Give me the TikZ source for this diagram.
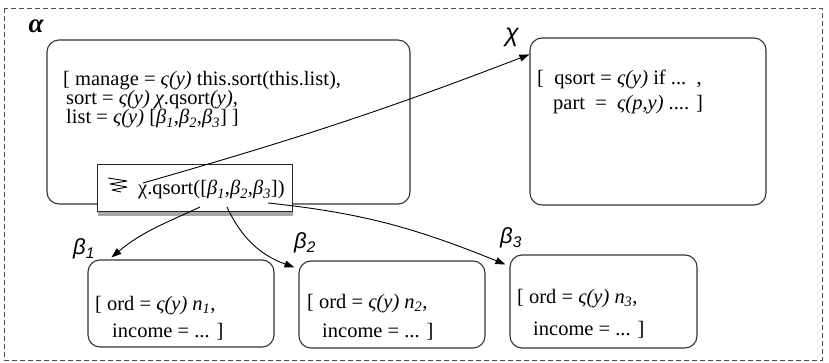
\documentclass[tikz,border=0pt]{standalone}
\usepackage{fontspec}
\setmainfont{Liberation Serif}
\newfontfamily\lblfont{Liberation Sans}
\usetikzlibrary{arrows.meta,shadows}

\tikzset{
  objbox/.style={draw=black!80, line width=1.1pt, rounded corners=12pt, inner sep=0pt},
  callbox/.style={draw=black!85, line width=1pt, fill=white, inner sep=0pt,
    drop shadow={shadow xshift=1pt, shadow yshift=-4pt, opacity=0.35, fill=black}},
  codeline/.style={anchor=base west, inner sep=0pt, font=\fontsize{20.5}{22}\selectfont},
  objname/.style={inner sep=0pt, font=\lblfont\itshape\fontsize{22}{23}\selectfont},
  ref/.style={line width=0.9pt, -{Triangle[length=10pt,width=7pt]}},
}
\newcommand{\sbx}[1]{\textsubscript{\textit{#1}}}

\begin{document}
\begin{tikzpicture}[x=1pt, y=-1pt]
  \useasboundingbox (0,0) rectangle (829,363);

  % enclosing dashed frame
  \draw[black!70, line width=0.9pt, dash pattern=on 5pt off 3pt] (4,8) rectangle (822,360);

  % object boxes
  \node[objbox, minimum width=363pt, minimum height=164pt] (alpha) at (228.5,122) {};
  \node[objbox, minimum width=236pt, minimum height=167pt] (chi) at (648,121.5) {};
  \node[objbox, minimum width=186pt, minimum height=87pt] (b1) at (181,303.5) {};
  \node[objbox, minimum width=186pt, minimum height=87pt] (b2) at (392,304.5) {};
  \node[objbox, minimum width=187pt, minimum height=93pt] (b3) at (603.5,301.5) {};

  % object names
  \node[inner sep=0pt, font=\bfseries\itshape\fontsize{27}{28}\selectfont] (alphaname) at (36,26) {α};
  \node[objname, font=\lblfont\itshape\fontsize{25}{26}\selectfont] (chiname) at (512,37) {χ};
  \node[objname] (b1name) at (84,249) {β\textsubscript{1}};
  \node[objname] (b2name) at (305,243) {β\textsubscript{2}};
  \node[objname] (b3name) at (511,238) {β\textsubscript{3}};

  % methods of alpha
  \node[codeline] (am1) at (63,86) {[ manage = \textit{ς(y)} this.sort(this.list),};
  \node[codeline] (am2) at (66,105) {sort = \textit{ς(y) χ}.qsort\textit{(y)},};
  \node[codeline] (am3) at (66,124) {list = \textit{ς(y)} [\textit{β}\sbx{1},\textit{β}\sbx{2},\textit{β}\sbx{3}] ]};

  % methods of chi
  \node[codeline] (cm1) at (537,85) {[\ \ qsort = \textit{ς(y)} if ...\ \ ,};
  \node[codeline] (cm2) at (553,110) {part\ \ =\ \ \textit{ς(p,y)} .... ]};

  % fields of the beta objects
  \node[codeline] (o1) at (95,310) {[ ord = \textit{ς(y) n}\sbx{1},};
  \node[codeline] (i1) at (112,337) {income = ... ]};
  \node[codeline] (o2) at (307,308) {[ ord = \textit{ς(y) n}\sbx{2},};
  \node[codeline] (i2) at (322,337) {income = ... ]};
  \node[codeline] (o3) at (517,303) {[ ord = \textit{ς(y) n}\sbx{3},};
  \node[codeline] (i3) at (533,335) {income = ... ]};

  % the pending call inside alpha
  \node[callbox, minimum width=195pt, minimum height=47pt] (call) at (194.5,188.5) {};
  \draw[line width=0.9pt, line join=round] (108,178) -- (127,181) -- (110,184) -- (127,187) -- (112,190) -- (121,192);
  \node[codeline] (callexpr) at (138,195) {χ.qsort([\textit{β}\sbx{1},\textit{β}\sbx{2},\textit{β}\sbx{3}])};

  % reference points on the call expression
  \coordinate (tochi) at (143,183);
  \coordinate (tob1) at (200,207);
  \coordinate (tob2) at (227,207);
  \coordinate (tob3) at (268,203);

  % references
  \draw[ref] (tochi) to[out=16, in=201] ([yshift=-17pt]chi.north west);
  \draw[ref] (tob1) to[out=205, in=40] ([xshift=24pt,yshift=2pt]b1.north west);
  \draw[ref] (tob2) to[out=295, in=160] ([xshift=-4pt,yshift=-7pt]b2.north west);
  \draw[ref] (tob3) to[out=-6, in=158] ([xshift=-4pt,yshift=-10pt]b3.north west);
\end{tikzpicture}
\end{document}
